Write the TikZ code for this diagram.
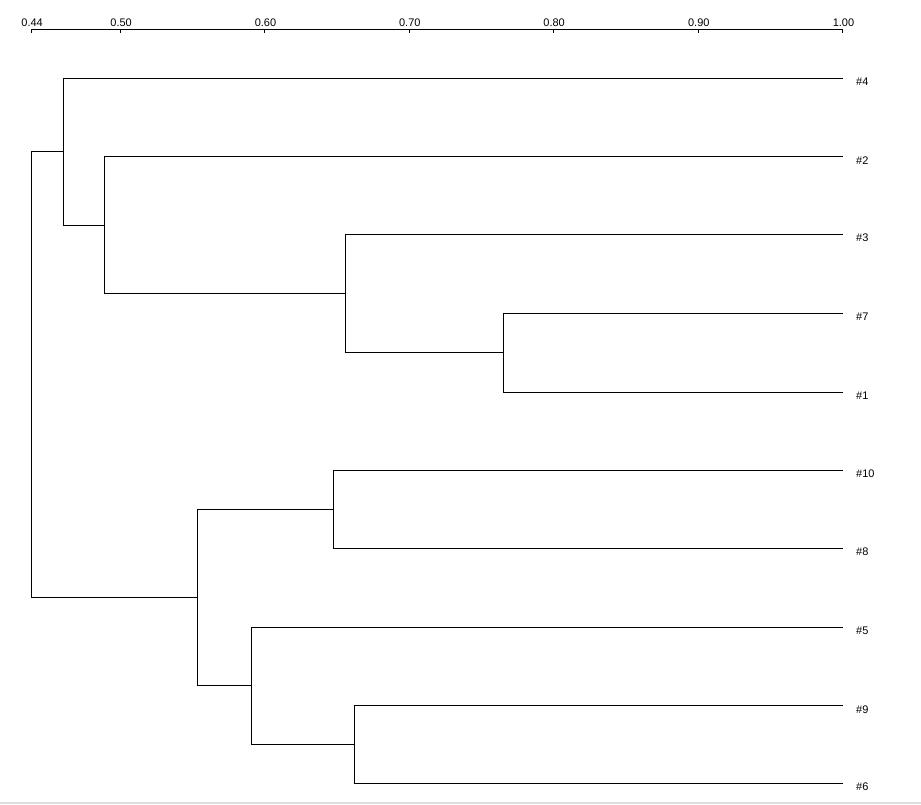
\documentclass[tikz,border=0pt]{standalone}
\usepackage{fontspec}
\setmainfont{Liberation Sans}
\begin{document}
\begin{tikzpicture}[x=1pt,y=-1pt,
  link/.style={line width=1pt,black},
  leaflabel/.style={anchor=base west,inner sep=0pt,font=\fontsize{11}{13}\selectfont},
  ticklabel/.style={anchor=base,inner sep=0pt,font=\fontsize{11}{13}\selectfont}]
\useasboundingbox (0,0) rectangle (921,804);
\fill[white] (0,0) rectangle (921,804);
\fill[black!13] (0,802) rectangle (921,804);
% axis
\draw[link] (31.3,29) -- (843,29);
\foreach \x/\t [count=\i] in {31.3/0.44,120.3/0.50,264.7/0.60,409/0.70,553.3/0.80,698/0.90,842.7/1.00}{
  \draw[link] (\x,29) -- (\x,32.5);
  \node[ticklabel] (tick\i) at (\x+0.8,26.5) {\t};
}
% leaves
\foreach \n/\y in {4/78,2/156.7,3/234.5,7/313.5,1/392,10/470.5,8/548.3,5/627,9/705.7,6/783.3}{
  \coordinate (l\n) at (843,\y);
  \node[leaflabel] (lab\n) at (856,\y+7.3) {\#\n};
}
% internal nodes
\coordinate (n71) at (503.3,352.75);
\coordinate (n3) at (345.3,293.6);
\coordinate (n2) at (104.3,225.2);
\coordinate (n4) at (63.3,151.6);
\coordinate (root) at (31.3,597.3);
\coordinate (n108) at (333.3,509.4);
\coordinate (n96) at (354.3,744.5);
\coordinate (n5) at (251.3,685.7);
\coordinate (n10) at (197.3,597.5);
% links
\draw[link] (l7) -| (n71) |- (l1);
\draw[link] (l3) -| (n3) |- (n71);
\draw[link] (l2) -| (n2) |- (n3);
\draw[link] (l4) -| (n4) |- (n2);
\draw[link] (l10) -| (n108) |- (l8);
\draw[link] (l9) -| (n96) |- (l6);
\draw[link] (l5) -| (n5) |- (n96);
\draw[link] (n108) -| (n10) |- (n5);
\draw[link] (n4) -| (root) |- (n10);
\end{tikzpicture}
\end{document}
